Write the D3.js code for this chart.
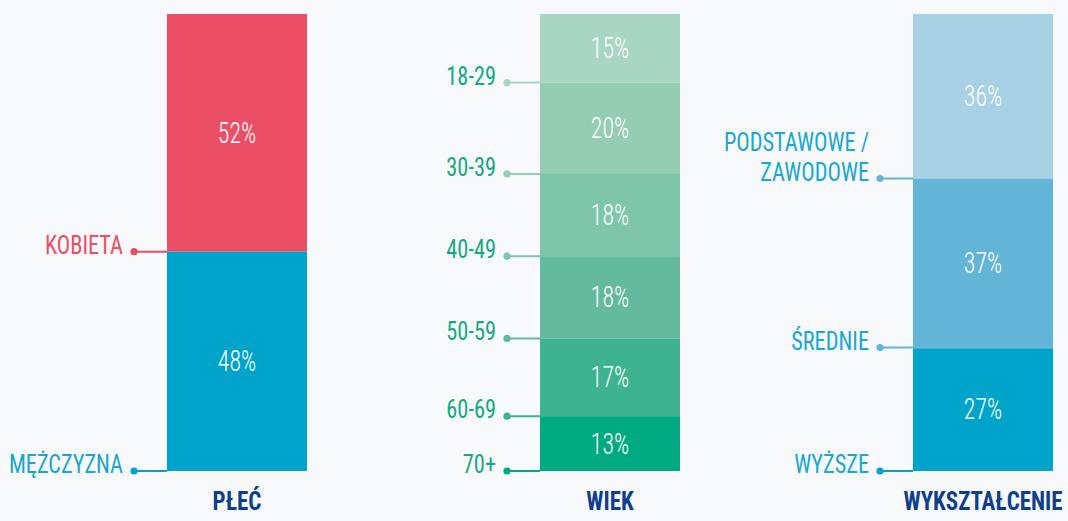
<!DOCTYPE html>
<html><head><meta charset="utf-8">
<script src="https://cdn.jsdelivr.net/npm/d3@7"></script>
<style>
html,body{margin:0;padding:0;background:#f8f9fb;}
svg{display:block;}
text{font-family:"Liberation Sans Narrow","Roboto Condensed","Roboto","DejaVu Sans Condensed",sans-serif;}
</style></head>
<body>
<svg id="chart" width="1068" height="521"></svg>
<script>
// ---- data ----
const groups = ["PŁEĆ", "WIEK", "WYKSZTAŁCENIE"];

const plecLabels = ["KOBIETA", "MĘŻCZYZNA"];
const plecValues = [52, 48];
const plecColors = ["#ea4f65", "#00a4ca"];
const plecLineColors = ["#ea4f65", "#00a4ca"];
const plecTextColors = ["#ea4f65", "#18a6cf"];

const wiekLabels = ["18-29", "30-39", "40-49", "50-59", "60-69", "70+"];
const wiekValues = [15, 20, 18, 18, 17, 13];
const wiekColors = ["#a9d6c2", "#95cdb4", "#7ec5a9", "#63ba9c", "#3eb38f", "#00aa80"];
const wiekLineColors = ["#a9d6c2", "#95cdb4", "#7ec5a9", "#63ba9c", "#3eb38f", "#00aa80"];
const wiekTextColors = ["#16a882", "#16a882", "#16a882", "#16a882", "#16a882", "#16a882"];

const wyksLabels = [["PODSTAWOWE /", "ZAWODOWE"], ["ŚREDNIE"], ["WYŻSZE"]];
const wyksValues = [36, 37, 27];
const wyksColors = ["#a9d1e5", "#63b5d7", "#00a4ca"];
const wyksLineColors = ["#63b5d7", "#63b5d7", "#00a4ca"];
const wyksTextColors = ["#1aa7d1", "#1aa7d1", "#1aa7d1"];

const datasets = [
  {labels: plecLabels.map(d => [d]), values: plecValues, colors: plecColors, lineColors: plecLineColors, textColors: plecTextColors},
  {labels: wiekLabels.map(d => [d]), values: wiekValues, colors: wiekColors, lineColors: wiekLineColors, textColors: wiekTextColors},
  {labels: wyksLabels, values: wyksValues, colors: wyksColors, lineColors: wyksLineColors, textColors: wyksTextColors}
];

// ---- layout ----
const svg = d3.select("#chart");
const x = d3.scaleBand().domain(groups).range([167, 1053]).paddingInner(0.6247).paddingOuter(0);
const y = d3.scaleLinear().domain([0, 100]).range([14, 471]).clamp(true);

function narrowText(parent, tx, ty, sx, str) {
  return parent.append("text")
    .attr("transform", `translate(${tx},${ty}) scale(${sx},1)`)
    .text(str);
}

datasets.forEach((ds, gi) => {
  const g = svg.append("g");
  const gx = x(groups[gi]);
  const bw = x.bandwidth();
  let cum = 0;
  const segs = ds.values.map((v, i) => {
    const s = {v, i, y0: cum, y1: cum + v};
    cum += v;
    return s;
  });

  g.selectAll("rect").data(segs).join("rect")
    .attr("x", gx).attr("width", bw)
    .attr("y", d => y(d.y0))
    .attr("height", d => y(d.y1) - y(d.y0))
    .attr("fill", d => ds.colors[d.i]);

  // percentage labels
  segs.forEach(d => {
    narrowText(g, gx + bw / 2, (y(d.y0) + y(d.y1)) / 2 + 10, 0.82, d.v + "%")
      .attr("text-anchor", "middle")
      .attr("fill", "#ffffff")
      .attr("font-weight", 300)
      .attr("font-size", 29);
  });

  // leader lines + dots
  segs.forEach(d => {
    const yy = y(d.y1);
    g.append("line")
      .attr("x1", gx - 33).attr("x2", gx)
      .attr("y1", yy).attr("y2", yy)
      .attr("stroke", ds.lineColors[d.i]).attr("stroke-width", 2);
    g.append("circle")
      .attr("cx", gx - 33).attr("cy", yy).attr("r", 3.6)
      .attr("fill", ds.lineColors[d.i]);
    const lines = ds.labels[d.i];
    lines.forEach((ln, k) => {
      narrowText(g, gx - 44, yy + 2 - (lines.length - 1 - k) * 30, 0.86, ln)
        .attr("text-anchor", "end")
        .attr("fill", ds.textColors[d.i])
        .attr("font-size", 26);
    });
  });

  // title
  narrowText(g, gx + bw / 2, 510, 0.92, groups[gi])
    .attr("text-anchor", "middle")
    .attr("fill", "#0f3f8c")
    .attr("font-weight", "bold")
    .attr("font-size", 25);
});

// ŚREDNIE boundary line extends across the bar
{
  const gx = x(groups[2]);
  const yy = y(wyksValues[0] + wyksValues[1]);
  svg.append("line").attr("x1", gx).attr("x2", gx + x.bandwidth())
    .attr("y1", yy).attr("y2", yy)
    .attr("stroke", "#6dbcdc").attr("stroke-width", 2);
}
</script>
</body></html>
